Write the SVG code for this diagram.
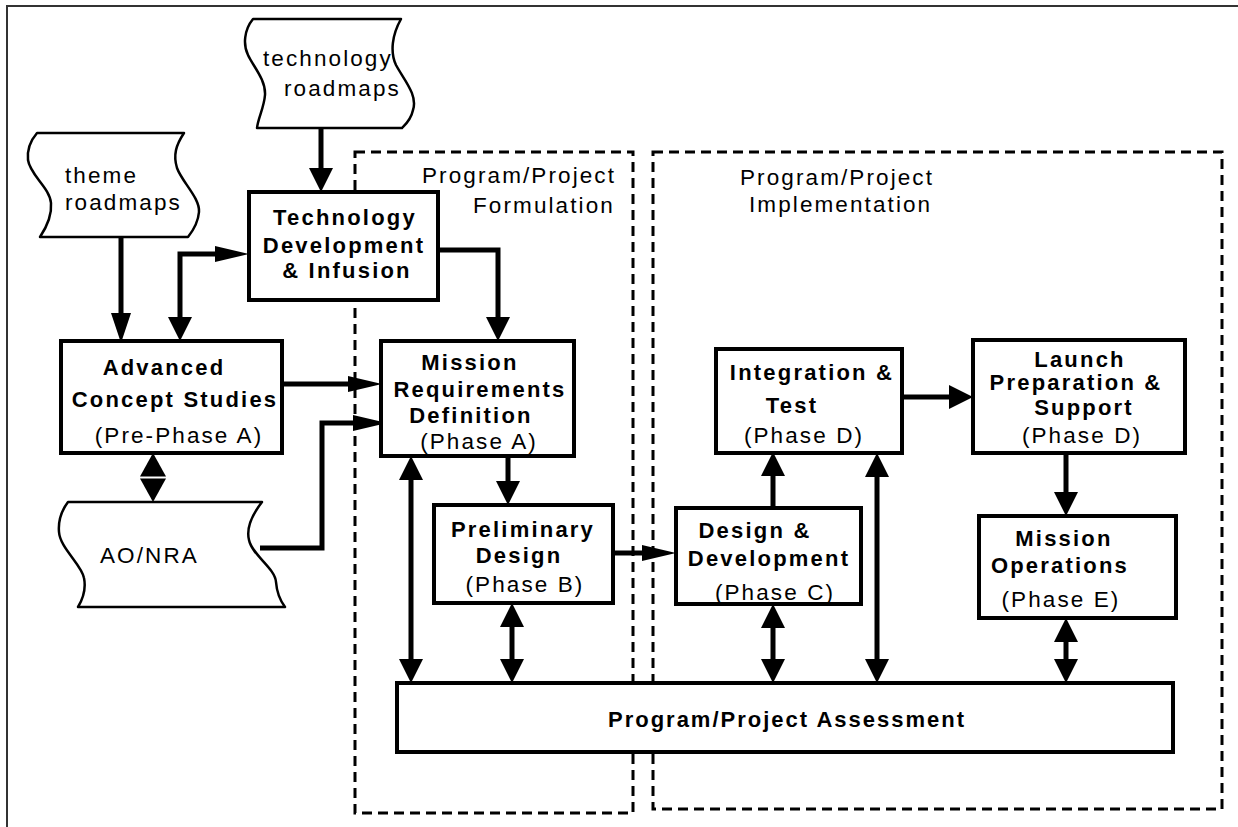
<svg xmlns="http://www.w3.org/2000/svg" width="1238" height="827" viewBox="0 0 1238 827">
<style>
.box{fill:#fff;stroke:#000;stroke-width:4;stroke-linejoin:miter}
.doc{fill:#fff;stroke:#000;stroke-width:2.5;stroke-linejoin:round}
.region{fill:none;stroke:#000;stroke-width:3;stroke-dasharray:10 6}
.c{fill:none;stroke:#000;stroke-width:5}
.t{font-family:"Liberation Sans",Arial,sans-serif;font-size:22.5px;letter-spacing:2.1px;fill:#000}
.b{font-family:"Liberation Sans",Arial,sans-serif;font-size:22px;font-weight:bold;letter-spacing:2.2px;fill:#000}
.m{text-anchor:middle}
</style>
<defs>
<marker id="mA" markerUnits="userSpaceOnUse" viewBox="0 0 24 24" markerWidth="24" markerHeight="24" refX="0" refY="12" orient="auto-start-reverse"><path d="M0,0 L24,12 L0,24 Z" fill="#000"/></marker>
<marker id="mB" markerUnits="userSpaceOnUse" viewBox="0 0 34 16" markerWidth="34" markerHeight="16" refX="0" refY="8" orient="auto-start-reverse"><path d="M0,0 L34,8 L0,16 Z" fill="#000"/></marker>
<marker id="mC" markerUnits="userSpaceOnUse" viewBox="0 0 30 20" markerWidth="30" markerHeight="20" refX="0" refY="10" orient="auto-start-reverse"><path d="M0,0 L30,10 L0,20 Z" fill="#000"/></marker>
</defs>
<rect width="1238" height="827" fill="#fff"/>
<path d="M7,827 V6 H1238" fill="none" stroke="#333" stroke-width="2"/>

<g id="formulation">
<rect class="region" x="355" y="152" width="278" height="661"/>
<text class="t" x="422" y="183">Program/Project</text>
<text class="t" x="473" y="213">Formulation</text>
</g>
<g id="implementation">
<rect class="region" x="653" y="152" width="569" height="657"/>
<text class="t" x="740" y="185">Program/Project</text>
<text class="t" x="749" y="212">Implementation</text>
</g>

<g id="connectors">
<path class="c" d="M321,128 V168" marker-end="url(#mA)"/>
<path class="c" d="M121,237 V313" stroke-width="4" marker-end="url(#mC)"/>
<path class="c" d="M180,317 V254 H215" stroke-width="4" marker-start="url(#mA)" marker-end="url(#mB)"/>
<path class="c" d="M438,250 H498 V317" stroke-width="4" marker-end="url(#mA)"/>
<path class="c" d="M282,384 H348" marker-end="url(#mB)"/>
<path class="c" d="M260,548 H322 V423 H353" stroke-width="4" marker-end="url(#mB)"/>
<path class="c" d="M508,456 V481" marker-end="url(#mA)"/>
<path class="c" d="M613,553 H642" stroke-width="3" marker-end="url(#mB)"/>
<path class="c" d="M773,508 V476" marker-end="url(#mA)"/>
<path class="c" d="M902,397 H949" marker-end="url(#mA)"/>
<path class="c" d="M1066,453 V492" marker-end="url(#mA)"/>
<path class="c" d="M411,480 V659" stroke-width="6" marker-start="url(#mA)" marker-end="url(#mA)"/>
<path class="c" d="M512,627 V659" marker-start="url(#mA)" marker-end="url(#mA)"/>
<path class="c" d="M773,628 V659" marker-start="url(#mA)" marker-end="url(#mA)"/>
<path class="c" d="M877,477 V659" marker-start="url(#mA)" marker-end="url(#mA)"/>
<path class="c" d="M1066,642 V659" marker-start="url(#mA)" marker-end="url(#mA)"/>
<polygon points="140,476.5 166,476.5 153,453" fill="#000"/>
<polygon points="140,478.5 166,478.5 153,502" fill="#000"/>
</g>

<g id="technology-roadmaps">
<path class="doc" d="M253,19 L401,19 C392,35 390,52 396,65 C404,80 418,95 413,110 C411,120 404,126 402,128 L257,128 C258,118 264,108 265,95 C266,80 253,66 248,55 C243,45 244,30 253,19 Z"/>
<text class="t" x="263" y="66">technology</text>
<text class="t" x="284" y="96">roadmaps</text>
</g>
<g id="theme-roadmaps">
<path class="doc" d="M37,133 L184,133 C176,145 173,155 177,168 C182,182 200,198 199,212 C198,224 192,232 188,237 L40,237 C46,228 52,215 51,203 C50,188 30,175 28,160 C27,150 31,140 37,133 Z"/>
<text class="t" x="65" y="183">theme</text>
<text class="t" x="65" y="210">roadmaps</text>
</g>
<g id="ao-nra">
<path class="doc" d="M68,502 L262,502 C252,515 246,528 249,540 C252,555 275,568 276,582 C277,595 282,603 285,607 L78,607 C84,597 86,588 84,578 C82,565 60,548 59,532 C58,520 62,510 68,502 Z"/>
<text class="t" x="100" y="563">AO/NRA</text>
</g>

<g id="tech-dev">
<rect class="box" x="249" y="192" width="189" height="108"/>
<text class="b m" x="345" y="225">Technology</text>
<text class="b m" x="344" y="253">Development</text>
<text class="b m" x="347" y="278">&amp; Infusion</text>
</g>
<g id="advanced-concept">
<rect class="box" x="61" y="341" width="221" height="112"/>
<text class="b m" x="164" y="375">Advanced</text>
<text class="b m" x="175" y="407">Concept Studies</text>
<text class="t m" x="179" y="443">(Pre-Phase A)</text>
</g>
<g id="mission-req">
<rect class="box" x="381" y="341" width="193" height="115"/>
<text class="b m" x="470" y="370">Mission</text>
<text class="b m" x="480" y="397">Requirements</text>
<text class="b m" x="471" y="423">Definition</text>
<text class="t m" x="479" y="449">(Phase A)</text>
</g>
<g id="prelim-design">
<rect class="box" x="434" y="505" width="179" height="98"/>
<text class="b m" x="523" y="537">Preliminary</text>
<text class="b m" x="519" y="563">Design</text>
<text class="t m" x="525" y="592">(Phase B)</text>
</g>
<g id="design-dev">
<rect class="box" x="676" y="508" width="185" height="96"/>
<text class="b m" x="755" y="538">Design &amp;</text>
<text class="b m" x="769" y="566">Development</text>
<text class="t m" x="775" y="600">(Phase C)</text>
</g>
<g id="integration-test">
<rect class="box" x="716" y="349" width="186" height="104"/>
<text class="b m" x="812" y="380">Integration &amp;</text>
<text class="b m" x="792" y="413">Test</text>
<text class="t m" x="804" y="443">(Phase D)</text>
</g>
<g id="launch-prep">
<rect class="box" x="973" y="340" width="212" height="113"/>
<text class="b m" x="1080" y="367">Launch</text>
<text class="b m" x="1076" y="390">Preparation &amp;</text>
<text class="b m" x="1084" y="415">Support</text>
<text class="t m" x="1082" y="443">(Phase D)</text>
</g>
<g id="mission-ops">
<rect class="box" x="979" y="516" width="197" height="102"/>
<text class="b m" x="1064" y="546">Mission</text>
<text class="b m" x="1060" y="573">Operations</text>
<text class="t m" x="1061" y="607">(Phase E)</text>
</g>
<g id="assessment">
<rect class="box" x="397" y="683" width="776" height="69"/>
<text class="b m" x="787" y="727" style="letter-spacing:2px">Program/Project Assessment</text>
</g>
</svg>
